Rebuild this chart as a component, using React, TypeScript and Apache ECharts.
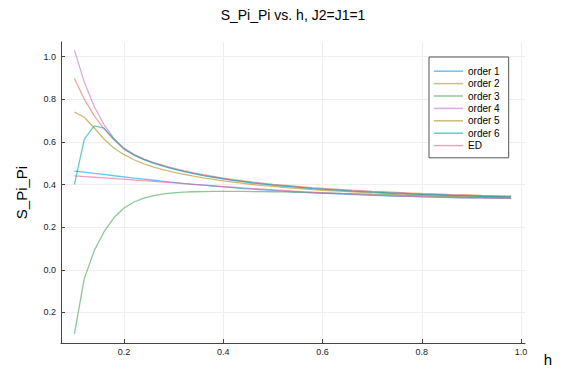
import React, { useEffect, useRef } from "react";
import * as echarts from "echarts";

const h = [0.10,0.12,0.14,0.16,0.18,0.20,0.22,0.24,0.26,0.28,0.30,0.32,0.34,0.36,0.38,0.40,0.42,0.44,0.46,0.48,0.50,0.52,0.54,0.56,0.58,0.60,0.62,0.64,0.66,0.68,0.70,0.72,0.74,0.76,0.78,0.80,0.82,0.84,0.86,0.88,0.90,0.92,0.94,0.96,0.98];

const order1 = [0.463,0.458,0.452,0.447,0.441,0.436,0.430,0.425,0.420,0.415,0.410,0.405,0.401,0.397,0.393,0.389,0.385,0.381,0.378,0.375,0.372,0.369,0.366,0.364,0.361,0.359,0.357,0.355,0.353,0.351,0.349,0.348,0.346,0.345,0.344,0.342,0.341,0.340,0.339,0.338,0.338,0.337,0.336,0.336,0.335];
const order2 = [0.897,0.800,0.722,0.660,0.608,0.566,0.539,0.519,0.502,0.488,0.476,0.465,0.455,0.446,0.438,0.430,0.423,0.417,0.411,0.406,0.401,0.397,0.393,0.389,0.385,0.382,0.379,0.376,0.373,0.371,0.368,0.366,0.364,0.362,0.360,0.358,0.357,0.355,0.353,0.352,0.351,0.349,0.348,0.347,0.346];
const order3 = [-0.300,-0.040,0.090,0.180,0.245,0.290,0.318,0.336,0.348,0.356,0.361,0.364,0.366,0.367,0.368,0.368,0.368,0.368,0.367,0.367,0.366,0.365,0.364,0.363,0.362,0.361,0.360,0.358,0.357,0.356,0.354,0.353,0.352,0.350,0.349,0.348,0.346,0.345,0.344,0.342,0.341,0.340,0.339,0.338,0.337];
const order4 = [1.030,0.880,0.765,0.680,0.615,0.570,0.541,0.519,0.501,0.487,0.474,0.462,0.452,0.443,0.435,0.427,0.420,0.414,0.408,0.403,0.398,0.394,0.390,0.386,0.382,0.379,0.376,0.373,0.370,0.368,0.365,0.363,0.361,0.359,0.357,0.355,0.354,0.352,0.350,0.349,0.348,0.346,0.345,0.344,0.343];
const order5 = [0.740,0.715,0.665,0.612,0.570,0.540,0.516,0.497,0.482,0.469,0.458,0.448,0.439,0.431,0.424,0.417,0.411,0.405,0.400,0.395,0.391,0.387,0.383,0.380,0.376,0.373,0.370,0.368,0.365,0.363,0.361,0.359,0.357,0.355,0.353,0.352,0.350,0.349,0.347,0.346,0.345,0.344,0.342,0.341,0.340];
const order6 = [0.400,0.613,0.675,0.664,0.612,0.567,0.538,0.517,0.499,0.485,0.472,0.461,0.451,0.442,0.434,0.426,0.419,0.413,0.407,0.402,0.397,0.393,0.389,0.385,0.381,0.378,0.375,0.372,0.369,0.367,0.364,0.362,0.360,0.358,0.356,0.354,0.353,0.351,0.349,0.348,0.347,0.345,0.344,0.343,0.342];
const ed = [0.440,0.437,0.434,0.431,0.428,0.425,0.421,0.418,0.415,0.411,0.408,0.404,0.401,0.397,0.394,0.390,0.387,0.384,0.381,0.378,0.375,0.372,0.369,0.366,0.364,0.361,0.359,0.357,0.355,0.353,0.351,0.349,0.347,0.346,0.344,0.343,0.342,0.341,0.340,0.339,0.338,0.337,0.336,0.336,0.335];

const seriesNames = ["order 1", "order 2", "order 3", "order 4", "order 5", "order 6", "ED"];
const seriesValues = [order1, order2, order3, order4, order5, order6, ed];
const colors = [
  "rgba(0,154,250,0.6)",
  "rgba(227,111,71,0.6)",
  "rgba(62,164,78,0.6)",
  "rgba(195,113,210,0.6)",
  "rgba(172,141,24,0.6)",
  "rgba(0,169,173,0.6)",
  "rgba(237,95,146,0.6)",
];
const xTicks = [0.2, 0.4, 0.6, 0.8, 1.0];
const yTicks = [-0.2, 0.0, 0.2, 0.4, 0.6, 0.8, 1.0];

const FONT = "Liberation Sans, Arial, Helvetica, sans-serif";

export default function App() {
  const ref = useRef<HTMLDivElement>(null);
  useEffect(() => {
    if (!ref.current) return;
    const chart = echarts.init(ref.current, null, { renderer: "svg" });
    chart.setOption({
      animation: false,
      backgroundColor: "#fff",
      textStyle: { fontFamily: FONT },
      title: {
        text: "S_Pi_Pi vs. h, J2=J1=1",
        left: 288,
        top: 3,
        textAlign: "center",
        textStyle: { fontSize: 14, fontWeight: "normal", color: "#000", fontFamily: FONT },
      },
      legend: {
        orient: "vertical",
        left: 429,
        top: 57,
        padding: [8, 9, 6, 5],
        borderColor: "#555",
        borderWidth: 1,
        borderRadius: 0,
        backgroundColor: "#fff",
        itemWidth: 29,
        itemHeight: 1.5,
        itemGap: 0,
        icon: "rect",
        textStyle: { fontSize: 10, color: "#000", lineHeight: 12.4, fontFamily: FONT },
        data: seriesNames,
      },
      grid: { left: 61, right: 51, top: 42, bottom: 26, containLabel: false },
      xAxis: {
        type: "value",
        min: 0.073,
        max: 1.008,
        axisLine: { show: true, onZero: false, lineStyle: { color: "#444", width: 1 } },
        axisTick: { show: true, inside: true, length: 4, customValues: xTicks, lineStyle: { color: "#444" } },
        axisLabel: {
          customValues: xTicks,
          fontSize: 9,
          color: "#222",
          margin: 4,
          formatter: (v: number) => v.toFixed(1),
        },
        splitLine: { show: true, lineStyle: { color: "#eeeeee", width: 1 } },
      },
      yAxis: {
        type: "value",
        min: -0.343,
        max: 1.068,
        name: "S_Pi_Pi",
        nameLocation: "middle",
        nameGap: 32,
        nameTextStyle: { fontSize: 15, color: "#000", fontFamily: FONT },
        axisLine: { show: true, onZero: false, lineStyle: { color: "#444", width: 1 } },
        axisTick: { show: true, inside: true, length: 4, customValues: yTicks, lineStyle: { color: "#444" } },
        axisLabel: {
          customValues: yTicks,
          fontSize: 9,
          color: "#222",
          margin: 5,
          formatter: (v: number) => Math.abs(v).toFixed(1),
        },
        splitLine: { show: true, lineStyle: { color: "#eeeeee", width: 1 } },
      },
      graphic: [
        {
          type: "text",
          x: 548,
          y: 359,
          style: { text: "h", fontSize: 15, fill: "#000", textAlign: "center", textVerticalAlign: "middle", fontFamily: FONT },
        },
      ],
      series: seriesNames.map((name, i) => ({
        name,
        type: "line",
        data: h.map((x, j) => [x, seriesValues[i][j]]),
        showSymbol: false,
        symbol: "none",
        color: colors[i],
        lineStyle: { width: 1.3, color: colors[i] },
        itemStyle: { color: colors[i] },
      })),
    });
    return () => chart.dispose();
  }, []);
  return (
    <div
      ref={ref}
      style={{ position: "absolute", left: 0, top: 0, width: 576, height: 369 }}
    />
  );
}
